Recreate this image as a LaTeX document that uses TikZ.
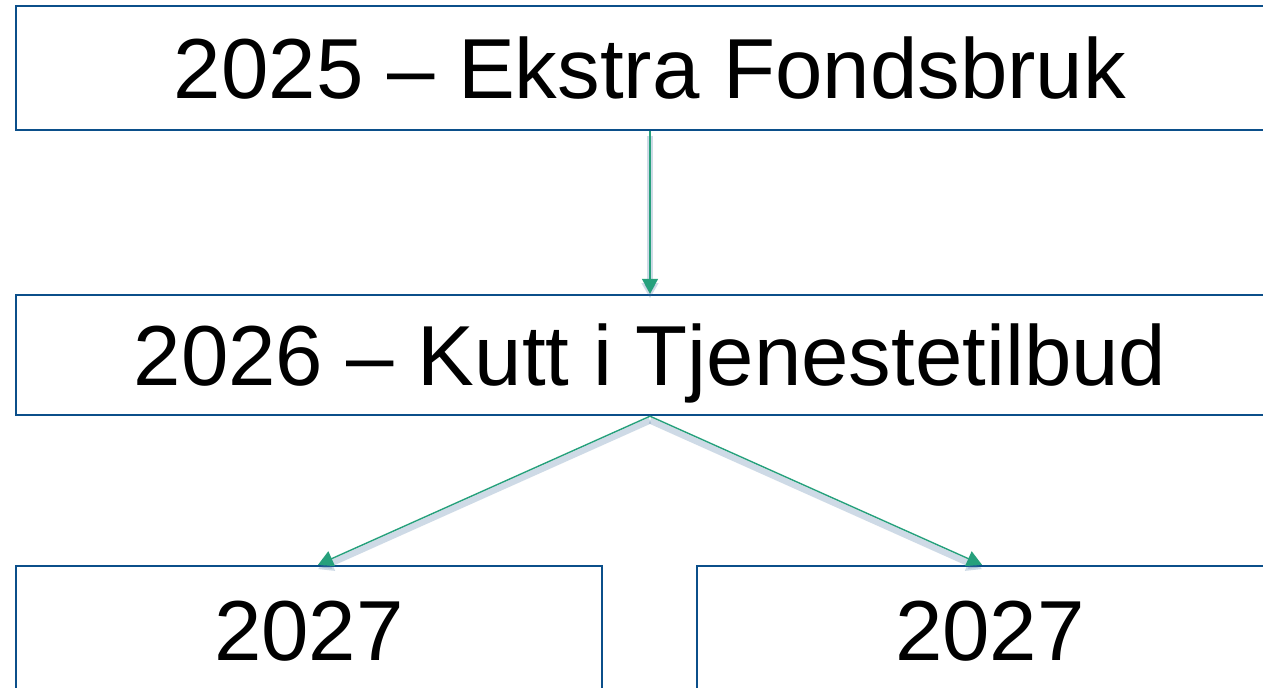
\documentclass[tikz,border=0pt]{standalone}
\usepackage{fontspec}
\setmainfont{Liberation Sans}
\usetikzlibrary{arrows.meta}
\definecolor{boxblue}{HTML}{0B4F8A}
\definecolor{arrowgreen}{HTML}{26A07C}
\definecolor{glowblue}{HTML}{3E6E9E}
\tikzset{
  yearbox/.style={draw=boxblue, line width=1.4pt, fill=white, inner sep=0pt, text depth=0pt,
    font=\fontsize{48.5}{58}\selectfont},
  flow/.style={draw=arrowgreen, line width=0.8pt, -{Triangle[length=0.3cm, width=0.32cm]},
    preaction={draw=glowblue, line width=3.5pt, opacity=0.25, transform canvas={yshift=-2.5pt}}}
}

\begin{document}
\begin{tikzpicture}[x=0.02cm, y=-0.02cm]
\clip (0,0) rectangle (1263,687);
\fill[white] (0,0) rectangle (1263,687);
\node[yearbox, minimum width=25.36cm, minimum height=2.48cm] (top) at (650,68) {2025 -- Ekstra Fondsbruk};
\node[yearbox, minimum width=25.36cm, minimum height=2.4cm] (mid) at (650,355) {2026 -- Kutt i Tjenestetilbud};
\node[yearbox, minimum width=11.72cm, minimum height=2.6cm] (left) at (309,631) {2027};
\node[yearbox, minimum width=11.72cm, minimum height=2.6cm] (right) at (990,631) {2027};
\draw[flow] (top.south) -- (mid.north);
\draw[flow] (mid.south) -- ([xshift=0.18cm]left.north);
\draw[flow] (mid.south) -- ([xshift=-0.16cm]right.north);
\end{tikzpicture}
\end{document}
